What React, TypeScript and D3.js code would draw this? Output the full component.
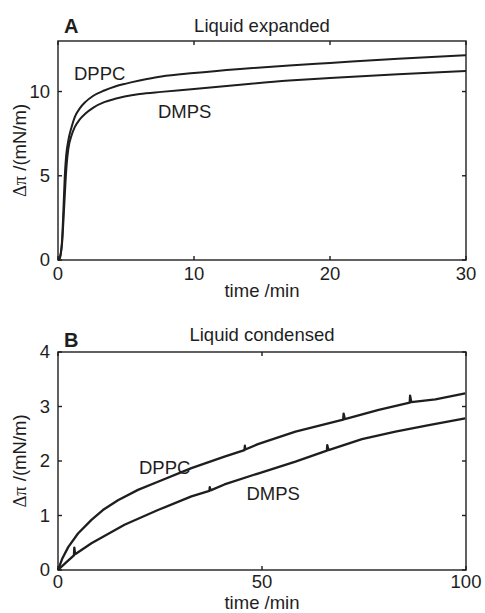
import React from "react";
import * as d3 from "d3";

// ---------- Data ----------
// Panel A: Liquid expanded, time (min) vs Δπ (mN/m)
const timeA_DPPC = [0, 0.1, 0.2, 0.3, 0.4, 0.5, 0.6, 0.76, 1.0, 1.24, 1.6, 2.0, 2.6, 3.4, 4.2, 5, 6, 7.6, 10, 13.4, 17, 20, 25, 30];
const valsA_DPPC = [0, 0.05, 0.3, 1.2, 3.0, 5.0, 6.2, 7.1, 7.9, 8.5, 9.0, 9.37, 9.75, 10.06, 10.3, 10.47, 10.65, 10.89, 11.1, 11.34, 11.55, 11.7, 11.95, 12.15];
const timeA_DMPS = [0, 0.1, 0.2, 0.3, 0.45, 0.55, 0.65, 0.76, 1.0, 1.24, 1.6, 2.0, 2.6, 3.4, 4.2, 4.9, 6, 7.6, 10, 13.4, 17, 20, 25, 30];
const valsA_DMPS = [0, 0.1, 0.4, 1.0, 3.1, 4.6, 5.8, 6.6, 7.4, 7.9, 8.35, 8.68, 9.05, 9.37, 9.57, 9.7, 9.85, 9.98, 10.15, 10.41, 10.65, 10.8, 11.02, 11.22];

// Panel B: Liquid condensed
const timeB_DPPC = [0, 1, 2.5, 4.9, 8.2, 11, 14.7, 19.6, 24.5, 32.7, 40.8, 45.7, 45.8, 45.9, 49, 58.2, 69.9, 70, 70.3, 78.6, 86.2, 86.3, 86.6, 92.5, 99.8];
const valsB_DPPC = [0, 0.2, 0.42, 0.67, 0.92, 1.1, 1.28, 1.47, 1.62, 1.87, 2.08, 2.2, 2.28, 2.21, 2.31, 2.54, 2.76, 2.87, 2.77, 2.94, 3.07, 3.2, 3.08, 3.13, 3.24];
const timeB_DMPS = [0, 2, 3.9, 4.0, 4.2, 8.2, 16.3, 24.5, 32.7, 37.1, 37.2, 37.4, 40.8, 49, 58.2, 65.9, 66, 66.3, 74.5, 82.7, 90.9, 99.8];
const valsB_DMPS = [0, 0.14, 0.27, 0.41, 0.29, 0.49, 0.83, 1.1, 1.35, 1.45, 1.52, 1.46, 1.57, 1.77, 1.99, 2.19, 2.29, 2.2, 2.4, 2.54, 2.66, 2.78];

const ticksA_x = [0, 10, 20, 30];
const ticksA_y = [0, 5, 10];
const ticksB_x = [0, 50, 100];
const ticksB_y = [0, 1, 2, 3, 4];

const INK = "#1e1e1e";
const FONT = "'Liberation Sans', Arial, Helvetica, sans-serif";

type Series = { t: number[]; v: number[]; smooth: boolean };
type Label = { text: string; x: number; y: number };

function Panel(props: {
  top: number;
  bottom: number;
  xDomain: [number, number];
  yDomain: [number, number];
  xTicks: number[];
  yTicks: number[];
  title: string;
  titleY: number;
  letter: string;
  letterY: number;
  series: Series[];
  labels: Label[];
  xLabelY: number;
  xTickOffset: number;
  lineW: number;
}) {
  const left = 58;
  const right = 466;
  const x = d3.scaleLinear().domain(props.xDomain).range([left, right]);
  const y = d3.scaleLinear().domain(props.yDomain).range([props.bottom, props.top]);
  const tickLen = 4;
  const midY = (props.top + props.bottom) / 2;
  return (
    <g>
      {props.series.map((s, i) => {
        const pts = s.t.map((t, j) => [t, s.v[j]] as [number, number]);
        const line = d3
          .line<[number, number]>()
          .x((d) => x(d[0]))
          .y((d) => y(d[1]))
          .curve(s.smooth ? d3.curveMonotoneX : d3.curveLinear);
        return (
          <path key={i} d={line(pts) || ""} fill="none" stroke={INK} strokeWidth={props.lineW} strokeLinejoin="round" />
        );
      })}
      <rect x={left} y={props.top} width={right - left} height={props.bottom - props.top} fill="none" stroke={INK} strokeWidth={1.4} />
      {props.xTicks.map((t) => (
        <g key={"xt" + t}>
          <line x1={x(t)} x2={x(t)} y1={props.bottom} y2={props.bottom - tickLen} stroke={INK} strokeWidth={1.4} />
          <line x1={x(t)} x2={x(t)} y1={props.top} y2={props.top + tickLen} stroke={INK} strokeWidth={1.4} />
          <text x={x(t)} y={props.bottom + props.xTickOffset} textAnchor="middle" fontSize={18.5} fill={INK} fontFamily={FONT}>
            {t}
          </text>
        </g>
      ))}
      {props.yTicks.map((t) => (
        <g key={"yt" + t}>
          <line x1={left} x2={left + tickLen} y1={y(t)} y2={y(t)} stroke={INK} strokeWidth={1.4} />
          <line x1={right} x2={right - tickLen} y1={y(t)} y2={y(t)} stroke={INK} strokeWidth={1.4} />
          <text x={50} y={y(t)} dy="0.35em" textAnchor="end" fontSize={18.5} fill={INK} fontFamily={FONT}>
            {t}
          </text>
        </g>
      ))}
      <text x={(left + right) / 2} y={props.titleY} textAnchor="middle" fontSize={18.5} fill={INK} fontFamily={FONT}>
        {props.title}
      </text>
      <text x={64} y={props.letterY} fontSize={20} fontWeight="bold" fill={INK} fontFamily={FONT}>
        {props.letter}
      </text>
      <text x={(left + right) / 2} y={props.xLabelY} textAnchor="middle" fontSize={18.5} fill={INK} fontFamily={FONT}>
        time /min
      </text>
      <text transform={`translate(26,${midY}) rotate(-90)`} textAnchor="middle" fontSize={18.5} fill={INK} fontFamily={FONT}>
        <tspan fontFamily="'Liberation Serif', 'DejaVu Serif', serif">Δπ</tspan> /(mN/m)
      </text>
      {props.labels.map((l) => (
        <text key={l.text} x={l.x} y={l.y} fontSize={18.5} fill={INK} fontFamily={FONT}>
          {l.text}
        </text>
      ))}
    </g>
  );
}

export default function App() {
  return (
    <svg width={485} height={613} style={{ position: "absolute", left: 0, top: 0, background: "#fff" }}>
      <rect width={485} height={613} fill="#fff" />
      <Panel
        top={41}
        bottom={260}
        xDomain={[0, 30]}
        yDomain={[0, 13]}
        xTicks={ticksA_x}
        yTicks={ticksA_y}
        title="Liquid expanded"
        titleY={31.5}
        letter="A"
        letterY={33}
        series={[
          { t: timeA_DPPC, v: valsA_DPPC, smooth: true },
          { t: timeA_DMPS, v: valsA_DMPS, smooth: true },
        ]}
        labels={[
          { text: "DPPC", x: 74, y: 80 },
          { text: "DMPS", x: 158, y: 118 },
        ]}
        xLabelY={297}
        xTickOffset={19.5}
        lineW={2}
      />
      <Panel
        top={352}
        bottom={570}
        xDomain={[0, 100]}
        yDomain={[0, 4]}
        xTicks={ticksB_x}
        yTicks={ticksB_y}
        title="Liquid condensed"
        titleY={341}
        letter="B"
        letterY={346.5}
        series={[
          { t: timeB_DPPC, v: valsB_DPPC, smooth: false },
          { t: timeB_DMPS, v: valsB_DMPS, smooth: false },
        ]}
        labels={[
          { text: "DPPC", x: 139, y: 474 },
          { text: "DMPS", x: 246.5, y: 500 },
        ]}
        xLabelY={608.8}
        xTickOffset={18}
        lineW={2.3}
      />
    </svg>
  );
}
